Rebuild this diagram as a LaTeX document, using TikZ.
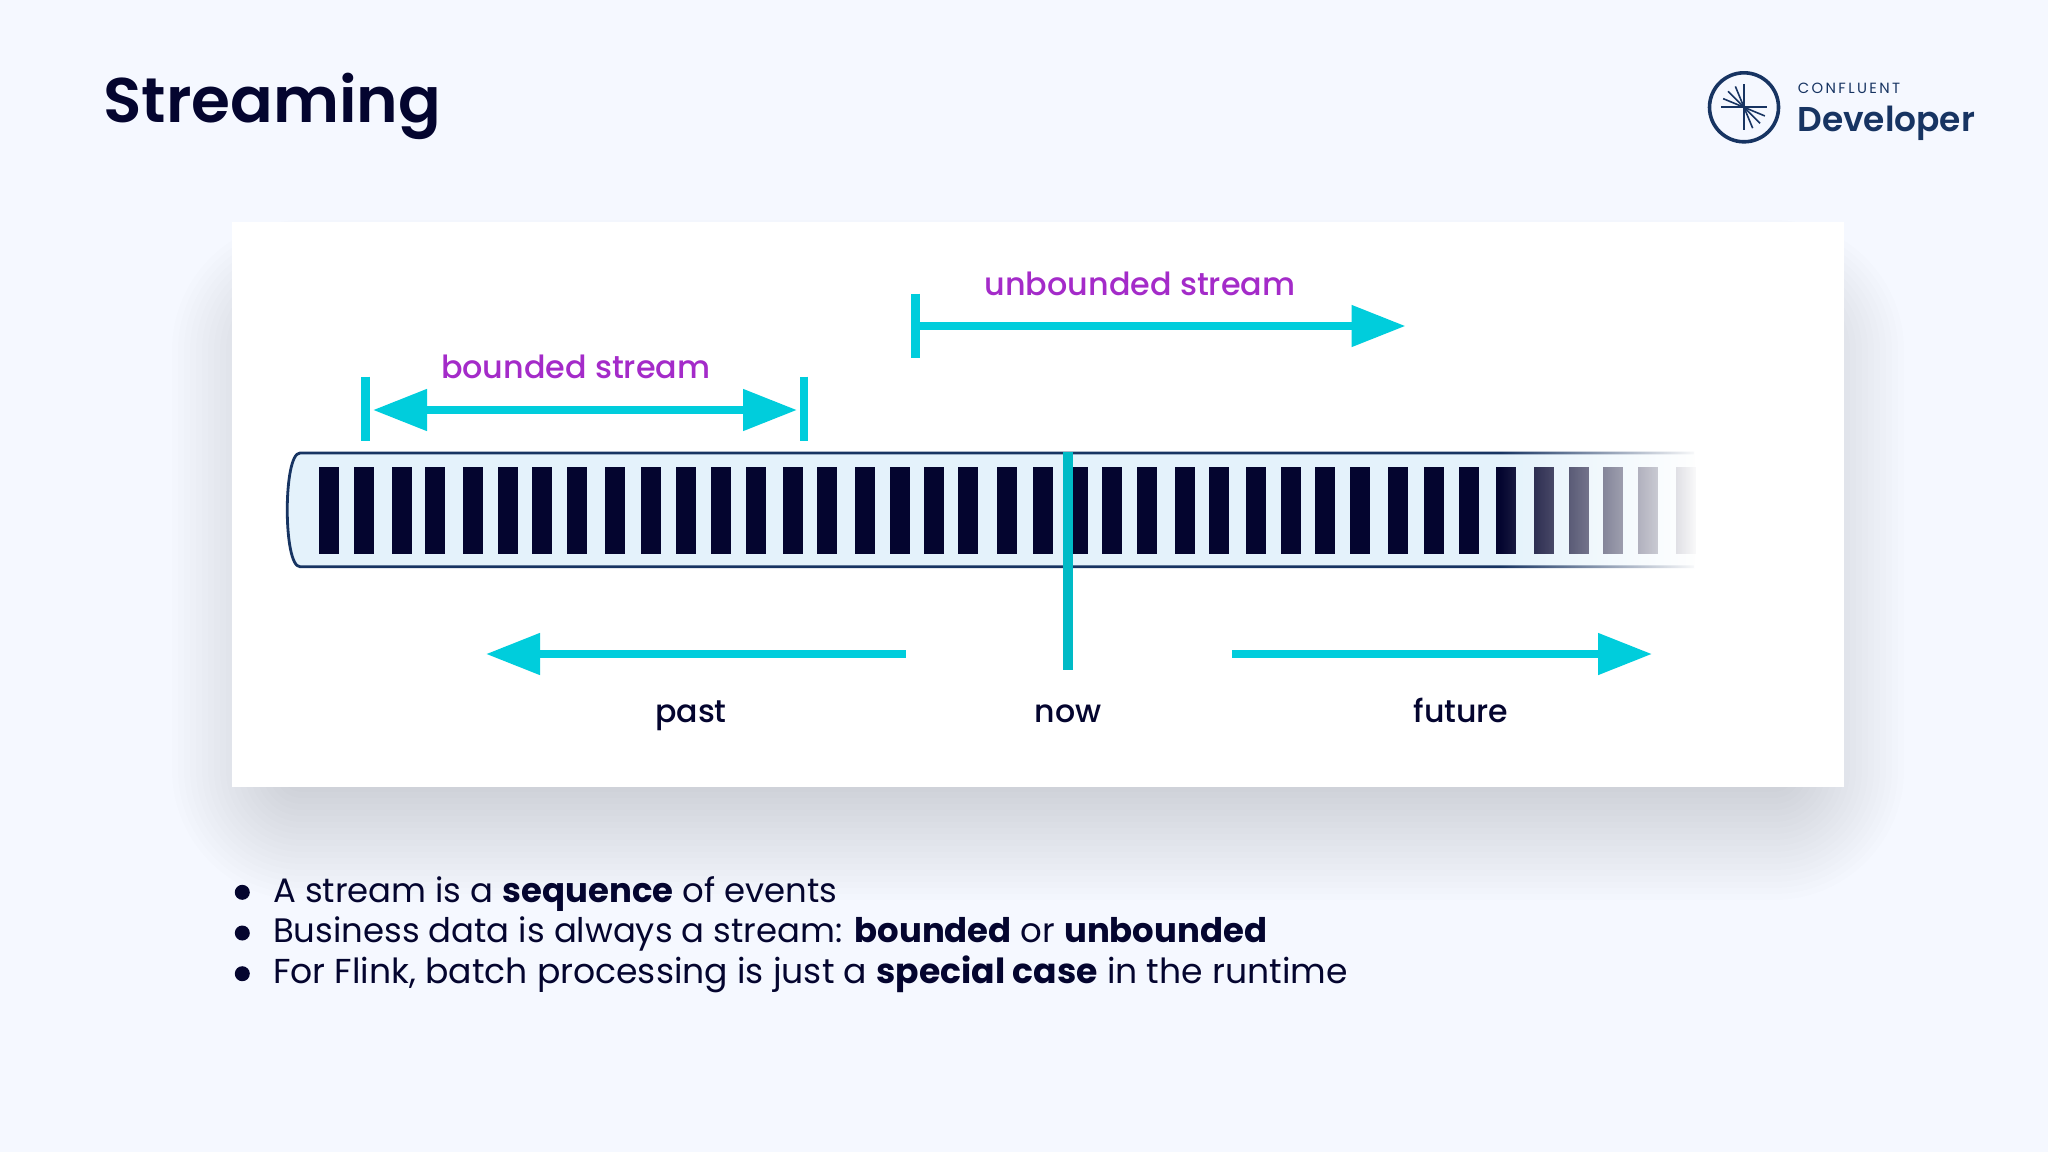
\documentclass[tikz,border=0pt]{standalone}
\usepackage{fontspec}
\setmainfont{Poppins}[BoldFont=* Bold]
\newfontfamily\medfont{Poppins}[UprightFont=* Medium]
\newfontfamily\semifont{Poppins}[UprightFont=* SemiBold]
\usepackage{tikz}
\usetikzlibrary{arrows.meta,fadings,positioning}
\definecolor{pagebg}{HTML}{F5F8FF}
\definecolor{ink}{HTML}{04052F}
\definecolor{logoblue}{HTML}{173462}
\definecolor{tubeblue}{HTML}{E4F2FB}
\definecolor{cyanline}{HTML}{00CDDC}
\definecolor{nowline}{HTML}{00BAC6}
\definecolor{streampurple}{HTML}{A42BC9}
\tikzfading[name=fadetail, left color=transparent!100, right color=transparent!0]

\begin{document}
\begin{tikzpicture}[x=0.5pt, y=-0.5pt,
    label/.style = {inner sep=0pt, anchor=base, text=ink, font=\medfont\fontsize{15.8}{19}\selectfont},
    streamlabel/.style = {inner sep=0pt, anchor=base, text=streampurple, font=\medfont\fontsize{15.9}{19}\selectfont},
    item/.style = {inner sep=0pt, anchor=base west, text=ink, font=\fontsize{16.95}{21}\selectfont},
    dot/.style = {circle, fill=ink, inner sep=0pt, minimum size=7.5pt},
    tick/.style = {draw=cyanline, line width=4.2pt},
    arrow/.style = {draw=cyanline, line width=4pt, -{Triangle[length=27pt,width=20pt]}},
    twoway/.style = {arrow, {Triangle[length=27pt,width=20pt]}-{Triangle[length=27pt,width=20pt]}}]
    \useasboundingbox (0,0) rectangle (2048,1152);
    \fill[pagebg] (0,0) rectangle (2048,1152);

    % soft shadow of the card
    \foreach \s in {-60,-54,...,60} {
        \pgfmathsetmacro{\rad}{(\s+70)*0.5}
        \fill[ink, opacity=0.0075, rounded corners=\rad pt] (232-\s,280-\s) rectangle (1844+\s,840+\s);
    }
    \fill[white] (232,221.5) rectangle (1844,786.5);

    \node[inner sep=0pt, anchor=base west, text=ink, font=\semifont\fontsize{31.5}{38}\selectfont] (title) at (103,122) {Streaming};

    % logo
    \node[circle, draw=logoblue, line width=1.8pt, inner sep=0pt, minimum size=34.5pt] (logo) at (1744,107.3) {};
    \foreach \a in {0,90,180,270}
        \draw[logoblue, line width=1.1pt] (logo.center) -- ++(\a:23);
    \foreach \a in {112.5,135,157.5,-22.5,-45,-67.5}
        \draw[logoblue, line width=0.8pt] (logo.center) -- ++(-\a:22.6);
    \node[inner sep=0pt, anchor=base west, text=logoblue, font=\fontsize{7.4}{9}\selectfont\addfontfeature{LetterSpace=16}] (confluent) at (1797.5,93.5) {CONFLUENT};
    \node[inner sep=0pt, anchor=base west, text=logoblue, font=\semifont\fontsize{17.2}{21}\selectfont] (developer) at (1797,131) {Developer};

    % tube with its events
    \draw[draw=logoblue, line width=1.4pt, fill=tubeblue] (1694,453) -- (300,453) .. controls (283,453) and (283,566.7) .. (300,566.7) -- (1694,566.7);
    \foreach \x in {319,353.7,391.7,425.3,463.3,498.3,532,566.7,604.7,641,675.7,710.7,745.7,783.3,817.3,855.3,890,923.7,958.2,996.8,1032.8,1067.5,1102.1,1137.1,1174.6,1208.5,1246.4,1281.4,1315.3,1349.6,1387.8,1424,1459,1496.3,1534.3,1569.3,1603,1637.7,1676}
        \fill[ink] (\x,466.5) rectangle (\x+20,553.5);
    \fill[white, path fading=fadetail] (1500,445) rectangle (1700,575);

    % bounded stream
    \coordinate (bl) at (373,410);
    \coordinate (br) at (797,410);
    \draw[tick] (365.3,376.7) -- (365.3,441);
    \draw[tick] (803.7,376.7) -- (803.7,441);
    \draw[twoway] (bl) -- (br);
    \node[streamlabel] (bounded) at (575.7,378) {bounded stream};

    % unbounded stream
    \coordinate (us) at (915.5,326);
    \coordinate (ue) at (1405.5,326);
    \draw[tick] (915.5,293.7) -- (915.5,358.3);
    \draw[arrow] (us) -- (ue);
    \node[streamlabel] (unbounded) at (1140,295) {unbounded stream};

    % time axis
    \coordinate (pasts) at (905.5,654);
    \coordinate (pastt) at (486,654);
    \coordinate (futs) at (1232,654);
    \coordinate (futt) at (1652,654);
    \draw[arrow] (pasts) -- (pastt);
    \draw[arrow] (futs) -- (futt);
    \draw[draw=nowline, line width=4.8pt] (1067.9,452) -- (1067.9,670);
    \node[label] (past) at (691,722) {past};
    \node[label] (now) at (1068,722) {now};
    \node[label] (future) at (1461,722) {future};

    % bullet list
    \node[dot] (d1) at (242.3,892.3) {};
    \node[dot] (d2) at (242.3,933) {};
    \node[dot] (d3) at (242.3,973.7) {};
    \node[item] (t1) at (272.7,902) {A stream is a \textbf{sequence} of events};
    \node[item] (t2) at (272.7,942.5) {Business data is always a stream: \textbf{bounded} or \textbf{unbounded}};
    \node[item, font=\fontsize{17.3}{21}\selectfont] (t3) at (272.7,983.2) {For Flink, batch processing is just a \textbf{special case} in the runtime};
\end{tikzpicture}
\end{document}
